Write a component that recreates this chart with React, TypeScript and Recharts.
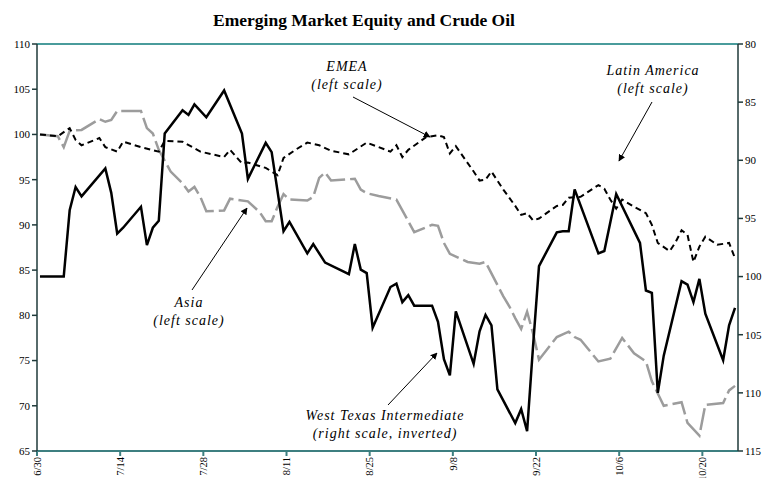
import React from 'react';
import { LineChart, Line, XAxis, YAxis, ReferenceLine } from 'recharts';

// x positions are calendar days counted from 6/30
const tickDays = [0, 14, 28, 42, 56, 70, 84, 98, 112];
const tickLabels = ['6/30', '7/14', '7/28', '8/11', '8/25', '9/8', '9/22', '10/6', '10/20'];
const leftTicks = [65, 70, 75, 80, 85, 90, 95, 100, 105, 110];
const rightTicks = [80, 85, 90, 95, 100, 105, 110, 115];

// West Texas Intermediate (right scale, inverted)
const wtiDays = [0, 4, 5, 6, 7, 11, 12, 13, 14, 17, 18, 19, 20, 21, 24, 25, 26, 28, 31, 34, 35, 38, 39, 41, 42, 45, 46, 48, 52, 53, 54, 55, 56, 59, 60, 61, 62, 63, 66, 67, 68, 69, 70, 73, 74, 75, 76, 77, 80, 81, 82, 83, 84, 87, 88, 89, 90, 94, 95, 97, 101, 102, 103, 104, 105, 108, 109, 110, 111, 112, 115, 116, 117];
const wtiValues = [100, 100, 94.3, 92.3, 93.1, 90.7, 92.8, 96.3, 95.8, 94.0, 97.3, 95.8, 95.2, 87.7, 85.7, 86.1, 85.2, 86.3, 84.0, 87.7, 91.6, 88.5, 89.3, 96.1, 95.3, 98.0, 97.2, 98.8, 99.8, 97.2, 99.4, 99.7, 104.4, 100.9, 100.6, 102.2, 101.6, 102.5, 102.5, 103.9, 107.1, 108.5, 103.0, 107.5, 104.7, 103.3, 104.2, 109.7, 112.6, 111.4, 113.3, 106.0, 99.1, 96.2, 96.1, 96.1, 92.5, 98.0, 97.8, 92.9, 97.1, 101.2, 101.4, 110.0, 106.8, 100.4, 100.7, 102.2, 100.2, 103.2, 107.2, 104.2, 102.7];

// EMEA (left scale)
const emeaDays = [0, 3, 5, 6, 7, 10, 11, 13, 14, 17, 20, 21, 24, 27, 31, 32, 34, 35, 38, 40, 41, 43, 45, 47, 49, 52, 55, 57, 59, 60, 61, 62, 65, 67, 68, 69, 70, 73, 74, 75, 76, 78, 80, 81, 82, 83, 84, 87, 88, 89, 91, 94, 95, 96, 97, 98, 100, 102, 103, 104, 106, 107, 108, 109, 110, 111, 112, 114, 116, 117];
const emeaValues = [100, 99.8, 100.7, 99.4, 98.8, 99.6, 98.6, 98.1, 99.2, 98.6, 98.1, 99.3, 99.2, 98.1, 97.5, 98.3, 96.8, 96.9, 96.3, 95.5, 97.4, 98.3, 99.1, 98.8, 98.2, 97.8, 99.1, 98.6, 98.1, 98.8, 97.5, 98.3, 99.7, 99.9, 99.7, 97.9, 98.7, 95.9, 94.9, 95.0, 95.9, 93.9, 92.1, 91.1, 91.3, 90.5, 90.7, 92.1, 92.2, 93.0, 93.1, 94.4, 94.0, 92.8, 91.8, 92.8, 92.0, 91.3, 90.0, 88.0, 87.1, 88.1, 89.4, 88.9, 85.9, 87.6, 88.7, 87.8, 88.0, 86.3];

// Asia (left scale)
const asiaDays = [0, 3, 4, 5, 7, 10, 11, 12, 13, 17, 18, 19, 20, 22, 24, 25, 26, 27, 28, 31, 32, 35, 37, 38, 39, 40, 41, 42, 45, 46, 47, 48, 49, 53, 54, 55, 57, 60, 63, 66, 67, 68, 69, 72, 74, 75, 78, 79, 80, 81, 82, 83, 84, 87, 89, 90, 91, 94, 96, 98, 100, 102, 103, 105, 108, 109, 111, 112, 115, 116, 117];
const asiaValues = [100, 99.8, 98.6, 100.4, 100.5, 101.7, 101.4, 101.6, 102.6, 102.6, 100.7, 100.1, 98.3, 95.9, 94.6, 93.7, 94.2, 93.1, 91.5, 91.6, 92.9, 92.6, 91.4, 90.4, 90.4, 92.0, 93.4, 92.8, 92.7, 93.1, 95.2, 95.8, 94.9, 95.1, 93.9, 93.5, 93.2, 92.8, 89.2, 90.0, 89.9, 88.0, 86.8, 85.9, 85.7, 85.9, 82.1, 81.0, 79.7, 78.5, 80.4, 78.0, 75.1, 77.6, 78.2, 77.6, 77.3, 74.9, 75.2, 77.5, 75.8, 74.9, 72.7, 70.0, 70.4, 68.1, 66.7, 70.1, 70.3, 71.7, 72.2];

type Row = { day: number; wti?: number; emea?: number; asia?: number };

const buildRows = (): Row[] => {
  const map = new Map<number, Row>();
  const put = (days: number[], vals: number[], key: 'wti' | 'emea' | 'asia') => {
    days.forEach((d, i) => {
      const row = map.get(d) || { day: d };
      row[key] = vals[i];
      map.set(d, row);
    });
  };
  put(wtiDays, wtiValues, 'wti');
  put(emeaDays, emeaValues, 'emea');
  put(asiaDays, asiaValues, 'asia');
  return Array.from(map.values()).sort((a, b) => a.day - b.day);
};

const rows = buildRows();
const serif = "'Liberation Serif', 'Times New Roman', serif";

const DateTick = (props: any) => {
  const { x, payload } = props;
  const idx = tickDays.indexOf(payload.value + 0.5);
  // labels hang just under the axis, reading bottom to top
  return (
    <text
      transform={`translate(${x},457) rotate(-90)`}
      textAnchor="end"
      dy="0.35em"
      fontSize={10.5}
      fontFamily={serif}
      fill="#000"
    >
      {tickLabels[idx]}
    </text>
  );
};

const Note = ({ x, y, lines }: { x: number; y: number; lines: string[] }) => (
  <text x={x} y={y} textAnchor="middle" fontFamily={serif} fontStyle="italic" fontSize={14} letterSpacing={1} fill="#000">
    {lines.map((l, i) => (
      <tspan key={i} x={x} dy={i === 0 ? 0 : 18}>{l}</tspan>
    ))}
  </text>
);

export default function App() {
  return (
    <div style={{ position: 'absolute', left: 0, top: 0, width: 766, height: 478, background: '#fff' }}>
      <LineChart width={766} height={478} data={rows} margin={{ top: 44, right: 0, bottom: 0, left: 7 }}>
        <XAxis
          dataKey="day"
          type="number"
          domain={[-0.5, 117.5]}
          ticks={tickDays.map((d) => d - 0.5)}
          tick={<DateTick />}
          height={27}
          tickSize={5}
          stroke="#3d7f80"
          strokeWidth={2}
          interval={0}
          allowDataOverflow
        />
        <YAxis
          yAxisId="left"
          domain={[65, 110]}
          ticks={leftTicks}
          width={30}
          tickSize={5}
          stroke="#1f3a3a"
          strokeWidth={1.5}
          tick={{ fontSize: 11, fontFamily: serif, fill: '#000' }}
          interval={0}
        />
        <YAxis
          yAxisId="right"
          orientation="right"
          reversed
          domain={[80, 115]}
          ticks={rightTicks}
          width={28}
          tickSize={5}
          stroke="#1f3a3a"
          strokeWidth={1.5}
          tick={{ fontSize: 11, fontFamily: serif, fill: '#000' }}
          interval={0}
        />
        <ReferenceLine yAxisId="left" y={110} stroke="#4a9c9c" strokeWidth={2} />
        <Line
          yAxisId="left"
          dataKey="asia"
          stroke="#9c9c9c"
          strokeWidth={2.5}
          strokeDasharray="22 5"
          dot={false}
          connectNulls
          isAnimationActive={false}
          type="linear"
        />
        <Line
          yAxisId="left"
          dataKey="emea"
          stroke="#000"
          strokeWidth={2}
          strokeDasharray="6 4"
          dot={false}
          connectNulls
          isAnimationActive={false}
          type="linear"
        />
        <Line
          yAxisId="right"
          dataKey="wti"
          stroke="#000"
          strokeWidth={2.5}
          dot={false}
          connectNulls
          isAnimationActive={false}
          type="linear"
        />
      </LineChart>
      <svg width={766} height={478} style={{ position: 'absolute', left: 0, top: 0, pointerEvents: 'none' }}>
        <defs>
          <marker id="arr" viewBox="0 0 10 10" refX="9" refY="5" markerWidth="7" markerHeight="7" orient="auto">
            <path d="M0,0 L10,5 L0,10 z" fill="#000" />
          </marker>
        </defs>
        <text x={364} y={26} textAnchor="middle" fontFamily={serif} fontWeight="bold" fontSize={17.5} fill="#000">
          Emerging Market Equity and Crude Oil
        </text>
        <Note x={347} y={71} lines={['EMEA', '(left scale)']} />
        <Note x={653} y={75} lines={['Latin America', '(left scale)']} />
        <Note x={189} y={307} lines={['Asia', '(left scale)']} />
        <Note x={385} y={420} lines={['West Texas Intermediate', '(right scale, inverted)']} />
        <line x1={353} y1={97} x2={430} y2={137} stroke="#000" strokeWidth={1} markerEnd="url(#arr)" />
        <line x1={652} y1={102} x2={619} y2={161} stroke="#000" strokeWidth={1} markerEnd="url(#arr)" />
        <line x1={192} y1={290} x2={247} y2={208} stroke="#000" strokeWidth={1} markerEnd="url(#arr)" />
        <line x1={388} y1={405} x2={437} y2={353} stroke="#000" strokeWidth={1} markerEnd="url(#arr)" />
      </svg>
    </div>
  );
}
